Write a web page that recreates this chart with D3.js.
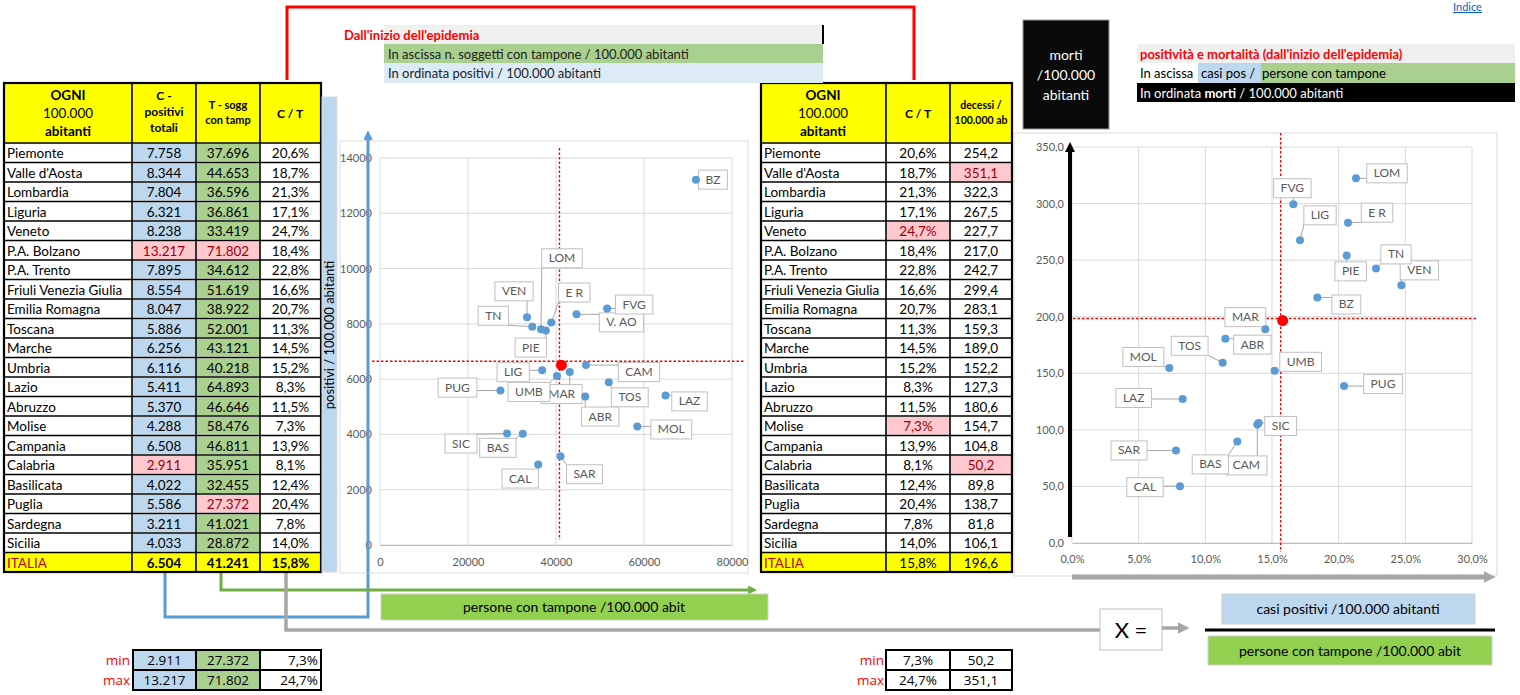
<!DOCTYPE html>
<html>
<head>
<meta charset="utf-8">
<script src="https://cdn.jsdelivr.net/npm/d3@7"></script>
<style>
  body { margin: 0; background: #fff; }
  svg { display: block; font-family: Lato, "Open Sans", sans-serif; }
</style>
</head>
<body>
<svg id="chart" width="1520" height="695"></svg>
<script>
// data
const regioni = ["Piemonte", "Valle d'Aosta", "Lombardia", "Liguria", "Veneto", "P.A. Bolzano", "P.A. Trento",
  "Friuli Venezia Giulia", "Emilia Romagna", "Toscana", "Marche", "Umbria", "Lazio", "Abruzzo", "Molise",
  "Campania", "Calabria", "Basilicata", "Puglia", "Sardegna", "Sicilia"];
const sigle = ["PIE", "V. AO", "LOM", "LIG", "VEN", "BZ", "TN", "FVG", "E R", "TOS", "MAR", "UMB", "LAZ",
  "ABR", "MOL", "CAM", "CAL", "BAS", "PUG", "SAR", "SIC"];
const positivi = [7758, 8344, 7804, 6321, 8238, 13217, 7895, 8554, 8047, 5886, 6256, 6116, 5411, 5370, 4288,
  6508, 2911, 4022, 5586, 3211, 4033];
const tamponi = [37696, 44653, 36596, 36861, 33419, 71802, 34612, 51619, 38922, 52001, 43121, 40218, 64893,
  46646, 58476, 46811, 35951, 32455, 27372, 41021, 28872];
const rapporto = [20.6, 18.7, 21.3, 17.1, 24.7, 18.4, 22.8, 16.6, 20.7, 11.3, 14.5, 15.2, 8.3, 11.5, 7.3,
  13.9, 8.1, 12.4, 20.4, 7.8, 14.0];
const decessi = [254.2, 351.1, 322.3, 267.5, 227.7, 217.0, 242.7, 299.4, 283.1, 159.3, 189.0, 152.2, 127.3,
  180.6, 154.7, 104.8, 50.2, 89.8, 138.7, 81.8, 106.1];
const italiaPositivi = 6504, italiaTamponi = 41241, italiaRapporto = 15.8, italiaDecessi = 196.6;

const ticksY1 = [0, 2000, 4000, 6000, 8000, 10000, 12000, 14000];
const ticksX1 = [0, 20000, 40000, 60000, 80000];
const ticksY2 = [0, 50, 100, 150, 200, 250, 300, 350];
const ticksX2 = [0, 5, 10, 15, 20, 25, 30];

// label placement (pixel offsets from the point), chart 1 and chart 2
const off1 = {"PIE":[-15,17],"V. AO":[45,8],"LOM":[21,-71],"LIG":[-29,2],"VEN":[-13,-26],"BZ":[17,0],
  "TN":[-39,-11],"FVG":[27,-4],"E R":[23,-30],"TOS":[21,15],"MAR":[-8,22],"UMB":[-28,16],"LAZ":[24,6],
  "ABR":[15,20],"MOL":[34,3],"CAM":[53,7],"CAL":[-18,14],"BAS":[-25,14],"PUG":[-43,-3],"SAR":[24,18],"SIC":[-46,10]};
const off2 = {"PIE":[4,16],"LOM":[31,-5],"LIG":[20,-25],"VEN":[18,-15],"BZ":[29,7],"TN":[20,-14],
  "FVG":[-1,-16],"E R":[29,-10],"TOS":[-33,-17],"MAR":[-20,-12],"UMB":[26,-9],"LAZ":[-49,-1],"ABR":[27,6],
  "MOL":[-26,-11],"CAM":[-11,41],"CAL":[-35,1],"BAS":[-27,23],"PUG":[39,-2],"SAR":[-47,0],"SIC":[22,3]};

const it = d3.formatLocale({decimal: ",", thousands: ".", grouping: [3], currency: ["", ""]});
const fInt = it.format(",d");
const fDec = it.format(".1f");
const fPct = v => fDec(v) + "%";

const BLUE = "#BDD7EE", GREEN = "#A9D08E", PINK = "#FFC7CE", PINKTXT = "#9C0006", YEL = "#FFFF00";

const svg = d3.select("#chart");

// arrow markers
const defs = svg.append("defs");
[["aBlue", "#5B9BD5", 9], ["aGreen", "#70AD47", 9], ["aGray", "#A6A6A6", 12], ["aBlack", "#000", 10]].forEach(([id, c, s]) => {
  defs.append("marker").attr("id", id).attr("viewBox", "0 0 10 10").attr("refX", 2).attr("refY", 5)
    .attr("markerWidth", s).attr("markerHeight", s).attr("markerUnits", "userSpaceOnUse").attr("orient", "auto")
    .append("path").attr("d", "M0,0L10,5L0,10z").attr("fill", c);
});

// ---------- connectors ----------
svg.append("path").attr("d", "M287,80V7H914V80").attr("fill", "none").attr("stroke", "#FF0000").attr("stroke-width", 3);
svg.append("path").attr("d", "M165,573V617H368V138").attr("fill", "none").attr("stroke", "#5B9BD5").attr("stroke-width", 3)
  .attr("marker-end", "url(#aBlue)");
svg.append("path").attr("d", "M221,573V590H750").attr("fill", "none").attr("stroke", "#70AD47").attr("stroke-width", 3)
  .attr("marker-end", "url(#aGreen)");
svg.append("path").attr("d", "M286,573V630H1100").attr("fill", "none").attr("stroke", "#A6A6A6").attr("stroke-width", 3.5);

// ---------- tables ----------
function cellText(g, x, y, txt, opt = {}) {
  return g.append("text").attr("x", x).attr("y", y).attr("text-anchor", opt.anchor || "middle")
    .attr("font-size", opt.size || 13.5).attr("font-weight", opt.bold ? "bold" : "normal")
    .attr("fill", opt.fill || "#000").text(txt);
}

function drawTable(cols, header) {
  const g = svg.append("g");
  const top = 83, hTop = 143, rh = 19.5, n = regioni.length;
  const bottom = hTop + (n + 1) * rh;
  const x0 = cols[0].x0, x1 = cols[cols.length - 1].x1;
  g.append("rect").attr("x", x0).attr("y", top).attr("width", x1 - x0).attr("height", hTop - top).attr("fill", YEL);
  regioni.forEach((r, i) => {
    const y = hTop + i * rh;
    cols.forEach(c => {
      const v = c.values ? c.values[i] : null;
      let fill = c.fill || "#fff", tf = "#000";
      if (c.mark && (v === d3.min(c.values) || v === d3.max(c.values))) { fill = PINK; tf = PINKTXT; }
      g.append("rect").attr("x", c.x0 + 1).attr("y", y + 1).attr("width", c.x1 - c.x0 - 2).attr("height", rh - 2).attr("fill", fill);
      if (c.values) cellText(g, (c.x0 + c.x1) / 2, y + 15, c.fmt(v), {fill: tf});
      else cellText(g, c.x0 + 3, y + 15, r, {anchor: "start"});
    });
  });
  const yI = hTop + n * rh;
  g.append("rect").attr("x", x0).attr("y", yI).attr("width", x1 - x0).attr("height", rh).attr("fill", YEL);
  cols.forEach(c => {
    if (c.values) cellText(g, (c.x0 + c.x1) / 2, yI + 15, c.fmt(c.italia), {bold: c.boldTot});
    else cellText(g, c.x0 + 3, yI + 15, "ITALIA", {anchor: "start", fill: "#C00000"});
  });
  // grid
  d3.range(n + 2).forEach(k => {
    g.append("line").attr("x1", x0).attr("x2", x1).attr("y1", hTop + k * rh).attr("y2", hTop + k * rh)
      .attr("stroke", "#000").attr("stroke-width", 1.6);
  });
  cols.slice(1).forEach(c => g.append("line").attr("x1", c.x0).attr("x2", c.x0).attr("y1", top).attr("y2", bottom)
    .attr("stroke", "#000").attr("stroke-width", 1.6));
  g.append("rect").attr("x", x0).attr("y", top).attr("width", x1 - x0).attr("height", bottom - top)
    .attr("fill", "none").attr("stroke", "#000").attr("stroke-width", 2.2);
  header(g);
}

drawTable([
  {x0: 4, x1: 132},
  {x0: 132, x1: 196, values: positivi, fmt: fInt, fill: BLUE, mark: true, italia: italiaPositivi, boldTot: true},
  {x0: 196, x1: 260, values: tamponi, fmt: fInt, fill: GREEN, mark: true, italia: italiaTamponi, boldTot: true},
  {x0: 260, x1: 321, values: rapporto, fmt: fPct, italia: italiaRapporto, boldTot: true}
], g => {
  cellText(g, 68, 100, "OGNI", {bold: true});
  cellText(g, 68, 118, "100.000");
  cellText(g, 68, 136, "abitanti", {bold: true});
  cellText(g, 164, 100, "C -", {bold: true, size: 12});
  cellText(g, 164, 116, "positivi", {bold: true, size: 12});
  cellText(g, 164, 132, "totali", {bold: true, size: 12});
  cellText(g, 228, 109, "T - sogg", {bold: true, size: 11});
  cellText(g, 228, 124, "con tamp", {bold: true, size: 11});
  cellText(g, 290, 118, "C / T", {bold: true, size: 12});
});

drawTable([
  {x0: 761, x1: 886},
  {x0: 886, x1: 950, values: rapporto, fmt: fPct, mark: true, italia: italiaRapporto},
  {x0: 950, x1: 1012, values: decessi, fmt: fDec, mark: true, italia: italiaDecessi}
], g => {
  cellText(g, 823, 100, "OGNI", {bold: true});
  cellText(g, 823, 118, "100.000");
  cellText(g, 823, 136, "abitanti", {bold: true});
  cellText(g, 918, 118, "C / T", {bold: true, size: 12});
  cellText(g, 981, 109, "decessi /", {bold: true, size: 10.5});
  cellText(g, 981, 124, "100.000 ab", {bold: true, size: 10.5});
});

// min / max tables
function minMax(cols, labelX) {
  const g = svg.append("g").attr("font-family", "'Liberation Sans Narrow', 'Open Sans', sans-serif");
  [["min", d3.min], ["max", d3.max]].forEach(([lab, fn], r) => {
    const y = 650 + r * 20;
    g.append("text").attr("x", labelX).attr("y", y + 15).attr("text-anchor", "end").attr("font-size", 13.5)
      .attr("fill", "#FF0000").text(lab);
    cols.forEach(c => {
      g.append("rect").attr("x", c.x0).attr("y", y).attr("width", c.x1 - c.x0).attr("height", 20)
        .attr("fill", c.fill || "#fff").attr("stroke", "#000").attr("stroke-width", 2);
      g.append("text").attr("x", c.right ? c.x1 - 3 : (c.x0 + c.x1) / 2).attr("y", y + 15)
        .attr("text-anchor", c.right ? "end" : "middle").attr("font-size", 13.5).text(c.fmt(fn(c.values)));
    });
  });
}
minMax([
  {x0: 133, x1: 196, values: positivi, fmt: fInt, fill: BLUE},
  {x0: 196, x1: 260, values: tamponi, fmt: fInt, fill: GREEN},
  {x0: 260, x1: 321, values: rapporto, fmt: fPct, right: true}
], 130);
minMax([
  {x0: 886, x1: 950, values: rapporto, fmt: fPct},
  {x0: 950, x1: 1012, values: decessi, fmt: fDec}
], 884);

// ---------- titles ----------
const t = svg.append("g").attr("font-size", 13);
t.append("rect").attr("x", 384).attr("y", 25).attr("width", 439).attr("height", 19).attr("fill", "#F0F0F0");
t.append("line").attr("x1", 823).attr("x2", 823).attr("y1", 25).attr("y2", 44).attr("stroke", "#000").attr("stroke-width", 2);
t.append("text").attr("x", 344).attr("y", 40).attr("fill", "#FF0000").attr("font-weight", "bold").text("Dall'inizio dell'epidemia");
t.append("rect").attr("x", 384).attr("y", 44).attr("width", 439).attr("height", 19).attr("fill", GREEN);
t.append("text").attr("x", 388).attr("y", 59).attr("fill", "#222").text("In ascissa n. soggetti con tampone / 100.000 abitanti");
t.append("rect").attr("x", 384).attr("y", 63).attr("width", 439).attr("height", 20).attr("fill", "#DDEBF7");
t.append("text").attr("x", 388).attr("y", 78).attr("fill", "#222").text("In ordinata positivi / 100.000 abitanti");

t.append("rect").attr("x", 1023).attr("y", 20).attr("width", 86).attr("height", 109).attr("fill", "#0A0A0A")
  .attr("stroke", "#999").attr("stroke-width", 1);
["morti", "/100.000", "abitanti"].forEach((s, i) =>
  t.append("text").attr("x", 1066).attr("y", 60 + i * 20).attr("text-anchor", "middle").attr("font-size", 14)
    .attr("fill", "#fff").text(s));

t.append("rect").attr("x", 1137).attr("y", 44).attr("width", 378).attr("height", 19).attr("fill", "#F0F0F0");
t.append("text").attr("x", 1140).attr("y", 59).attr("fill", "#FF0000").attr("font-weight", "bold")
  .text("positività e mortalità (dall'inizio dell'epidemia)");
t.append("rect").attr("x", 1198).attr("y", 63).attr("width", 63).attr("height", 20).attr("fill", BLUE);
t.append("rect").attr("x", 1261).attr("y", 63).attr("width", 254).attr("height", 20).attr("fill", GREEN);
t.append("text").attr("x", 1140).attr("y", 78).attr("fill", "#000").text("In ascissa");
t.append("text").attr("x", 1201).attr("y", 78).attr("fill", "#000").text("casi pos /");
t.append("text").attr("x", 1262).attr("y", 78).attr("fill", "#000").text("persone con tampone");
t.append("rect").attr("x", 1137).attr("y", 83).attr("width", 378).attr("height", 19).attr("fill", "#000");
const ord = t.append("text").attr("x", 1140).attr("y", 98).attr("fill", "#fff");
ord.append("tspan").text("In ordinata ");
ord.append("tspan").attr("font-weight", "bold").text("morti");
ord.append("tspan").text(" / 100.000 abitanti");
t.append("text").attr("x", 1453).attr("y", 11).attr("font-size", 11).attr("fill", "#0563C1")
  .attr("text-decoration", "underline").text("Indice");

// ---------- labels helper ----------
function labels(g, pts, offs) {
  pts.forEach(p => {
    const o = offs[p.k];
    if (!o) return;
    const cx = p.x + o[0], cy = p.y + o[1];
    const lg = g.append("g");
    const tx = lg.append("text").attr("x", cx).attr("y", cy + 4).attr("text-anchor", "middle")
      .attr("font-size", 12).attr("fill", "#595959").text(p.k);
    const w = tx.node().getComputedTextLength() + 14, h = 19;
    const bx = cx - w / 2, by = cy - h / 2;
    const lx = Math.max(bx, Math.min(p.x, bx + w)), ly = Math.max(by, Math.min(p.y, by + h));
    g.insert("line", ":first-child").attr("x1", p.x).attr("y1", p.y).attr("x2", lx).attr("y2", ly)
      .attr("stroke", "#A6A6A6").attr("stroke-width", 1);
    lg.insert("rect", "text").attr("x", bx).attr("y", by).attr("width", w).attr("height", h)
      .attr("fill", "#fff").attr("stroke", "#BFBFBF").attr("stroke-width", 1);
  });
}

// ---------- scatter 1 : tamponi vs positivi ----------
const s1 = svg.append("g");
s1.append("rect").attr("x", 340).attr("y", 141).attr("width", 408).attr("height", 432).attr("fill", "#fff")
  .attr("stroke", "#D9D9D9");
const x1 = d3.scaleLinear().domain([0, 80000]).range([380, 732]);
const y1 = d3.scaleLinear().domain([0, 14000]).range([545, 158]);
s1.append("g").selectAll("line").data(ticksY1).join("line")
  .attr("x1", x1(0)).attr("x2", x1(80000)).attr("y1", y1).attr("y2", y1).attr("stroke", "#D9D9D9");
s1.append("g").selectAll("line").data(ticksX1).join("line")
  .attr("x1", x1).attr("x2", x1).attr("y1", y1(0)).attr("y2", y1(14000)).attr("stroke", "#D9D9D9");
s1.append("g").attr("transform", `translate(${x1(0)},0)`)
  .call(d3.axisLeft(y1).tickValues(ticksY1).tickSize(0).tickPadding(8).tickFormat(d3.format("d")))
  .call(a => a.select(".domain").remove())
  .call(a => a.selectAll("text").attr("fill", "#595959").attr("font-size", 11).attr("font-family", "Lato, sans-serif"));
s1.append("g").attr("transform", `translate(0,${y1(0)})`)
  .call(d3.axisBottom(x1).tickValues(ticksX1).tickSize(0).tickPadding(13).tickFormat(d3.format("d")))
  .call(a => a.select(".domain").attr("stroke", "#BFBFBF"))
  .call(a => a.selectAll("text").attr("fill", "#595959").attr("font-size", 11).attr("font-family", "Lato, sans-serif"));
s1.append("line").attr("x1", x1(italiaTamponi) - 2).attr("x2", x1(italiaTamponi) - 2).attr("y1", 148).attr("y2", 540)
  .attr("stroke", "#FF0000").attr("stroke-width", 1.4).attr("stroke-dasharray", "2.5,2");
s1.append("line").attr("x1", 372).attr("x2", 744).attr("y1", y1(italiaPositivi) - 4).attr("y2", y1(italiaPositivi) - 4)
  .attr("stroke", "#FF0000").attr("stroke-width", 1.4).attr("stroke-dasharray", "2.5,2");
const pts1 = sigle.map((k, i) => ({k, x: x1(tamponi[i]), y: y1(positivi[i])}));
const lab1 = s1.append("g");
labels(lab1, pts1, off1);
s1.append("g").selectAll("circle").data(pts1).join("circle")
  .attr("cx", d => d.x).attr("cy", d => d.y).attr("r", 4).attr("fill", "#5B9BD5");
s1.append("circle").attr("cx", x1(italiaTamponi)).attr("cy", y1(italiaPositivi)).attr("r", 5.5).attr("fill", "#FF0000");

// y title bar
svg.append("rect").attr("x", 322).attr("y", 97).attr("width", 15).attr("height", 475).attr("fill", BLUE)
  .attr("stroke", "#DDD");
svg.append("text").attr("transform", "translate(334,335) rotate(-90)").attr("text-anchor", "middle")
  .attr("font-size", 13).text("positivi / 100.000 abitanti");
// redraw blue arrow on top of chart frame
svg.append("path").attr("d", "M368,573V138").attr("stroke", "#5B9BD5").attr("stroke-width", 3).attr("marker-end", "url(#aBlue)");

svg.append("rect").attr("x", 381).attr("y", 594).attr("width", 387).attr("height", 26).attr("fill", "#92D050")
  .attr("stroke", "#D0D0D0");
svg.append("text").attr("x", 574).attr("y", 612).attr("text-anchor", "middle").attr("font-size", 14)
  .text("persone con tampone  /100.000 abit");

// ---------- scatter 2 : C/T vs decessi ----------
const s2 = svg.append("g");
s2.append("rect").attr("x", 1014).attr("y", 133).attr("width", 483).attr("height", 443).attr("fill", "#fff")
  .attr("stroke", "#D9D9D9");
const x2 = d3.scaleLinear().domain([0, 30]).range([1072, 1472]);
const y2 = d3.scaleLinear().domain([0, 350]).range([543, 147]);
s2.append("g").selectAll("line").data(ticksY2).join("line")
  .attr("x1", x2(0)).attr("x2", x2(30)).attr("y1", y2).attr("y2", y2).attr("stroke", "#D9D9D9");
s2.append("g").selectAll("line").data(ticksX2).join("line")
  .attr("x1", x2).attr("x2", x2).attr("y1", y2(0)).attr("y2", y2(350)).attr("stroke", "#D9D9D9");
s2.append("g").attr("transform", `translate(${x2(0) - 4},0)`)
  .call(d3.axisLeft(y2).tickValues(ticksY2).tickSize(0).tickPadding(4).tickFormat(fDec))
  .call(a => a.select(".domain").remove())
  .call(a => a.selectAll("text").attr("fill", "#595959").attr("font-size", 11).attr("font-family", "Lato, sans-serif"));
s2.append("g").attr("transform", `translate(0,${y2(0)})`)
  .call(d3.axisBottom(x2).tickValues(ticksX2).tickSize(0).tickPadding(12).tickFormat(fPct))
  .call(a => a.select(".domain").attr("stroke", "#BFBFBF"))
  .call(a => a.selectAll("text").attr("fill", "#595959").attr("font-size", 11).attr("font-family", "Lato, sans-serif"));
s2.append("line").attr("x1", x2(italiaRapporto) - 2).attr("x2", x2(italiaRapporto) - 2).attr("y1", 133).attr("y2", 552)
  .attr("stroke", "#FF0000").attr("stroke-width", 1.4).attr("stroke-dasharray", "2.5,2");
s2.append("line").attr("x1", 1073).attr("x2", 1478).attr("y1", y2(italiaDecessi) - 2).attr("y2", y2(italiaDecessi) - 2)
  .attr("stroke", "#FF0000").attr("stroke-width", 1.4).attr("stroke-dasharray", "2.5,2");
const pts2 = sigle.map((k, i) => ({k, x: x2(rapporto[i]), y: y2(decessi[i]), v: decessi[i]})).filter(d => d.v <= 350);
labels(s2.append("g"), pts2, off2);
s2.append("g").selectAll("circle").data(pts2).join("circle")
  .attr("cx", d => d.x).attr("cy", d => d.y).attr("r", 4).attr("fill", "#5B9BD5");
s2.append("circle").attr("cx", x2(italiaRapporto)).attr("cy", y2(italiaDecessi)).attr("r", 5.5).attr("fill", "#FF0000");
s2.append("path").attr("d", "M1070,537V150").attr("stroke", "#000").attr("stroke-width", 4).attr("marker-end", "url(#aBlack)");
s2.append("path").attr("d", "M1072,577H1486").attr("stroke", "#A6A6A6").attr("stroke-width", 5).attr("marker-end", "url(#aGray)");

// ---------- formula ----------
svg.append("rect").attr("x", 1100).attr("y", 609).attr("width", 62).attr("height", 41).attr("fill", "#fff")
  .attr("stroke", "#BFBFBF");
svg.append("text").attr("x", 1131).attr("y", 638).attr("text-anchor", "middle").attr("font-size", 22).text("X =");
svg.append("path").attr("d", "M1162,628H1180").attr("stroke", "#A6A6A6").attr("stroke-width", 3.5).attr("marker-end", "url(#aGray)");
svg.append("rect").attr("x", 1222).attr("y", 594).attr("width", 253).attr("height", 30).attr("fill", BLUE).attr("stroke", "#D0D0D0");
svg.append("text").attr("x", 1348).attr("y", 614).attr("text-anchor", "middle").attr("font-size", 14).text("casi positivi  /100.000 abitanti");
svg.append("line").attr("x1", 1205).attr("x2", 1495).attr("y1", 630).attr("y2", 630).attr("stroke", "#000").attr("stroke-width", 3);
svg.append("rect").attr("x", 1208).attr("y", 636).attr("width", 284).attr("height", 29).attr("fill", "#92D050").attr("stroke", "#D0D0D0");
svg.append("text").attr("x", 1350).attr("y", 656).attr("text-anchor", "middle").attr("font-size", 14).text("persone con tampone  /100.000 abit");
</script>
</body>
</html>
